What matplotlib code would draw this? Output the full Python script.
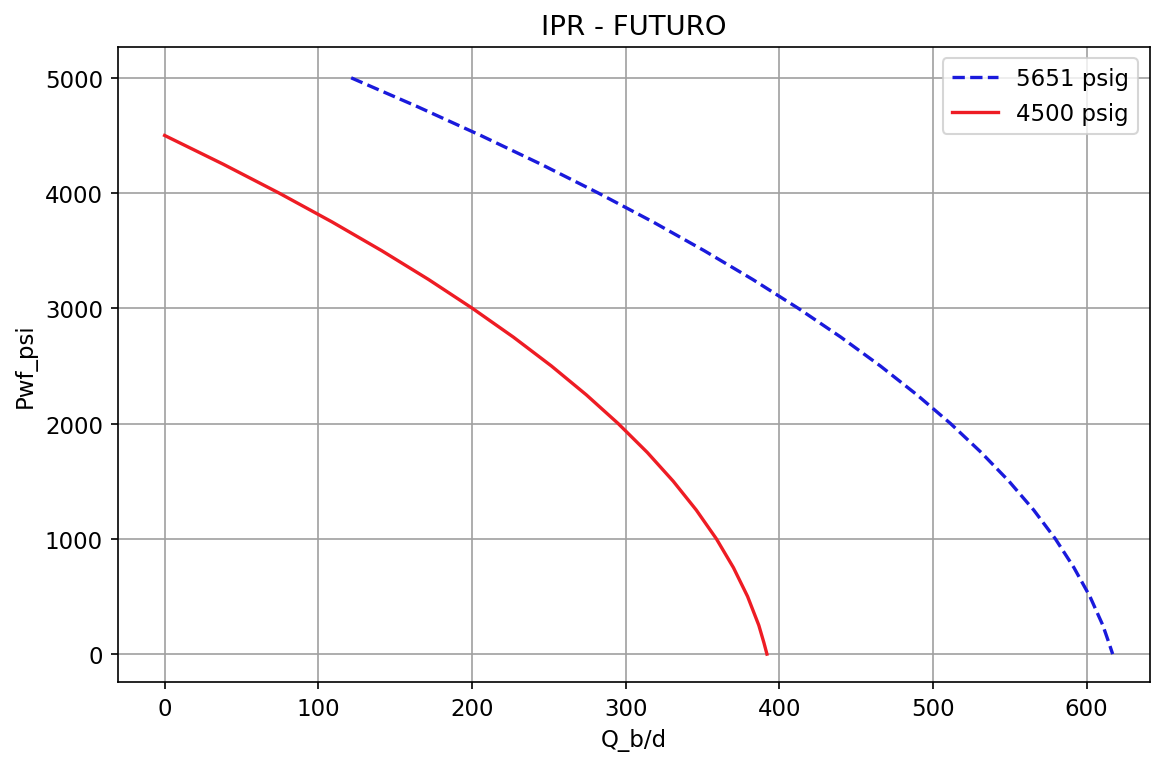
import matplotlib
matplotlib.use("Agg")
import matplotlib.pyplot as plt

# Pressures (psi) and rates (b/d)
pwf_5651 = [5000, 4750, 4500, 4250, 4000, 3750, 3500, 3250, 3000, 2750, 2500, 2250,
            2000, 1750, 1500, 1250, 1000, 750, 500, 250, 100, 0]
q_5651 = [121.4, 164.5, 205.7, 245.0, 282.3, 317.8, 351.2, 382.8, 412.4, 440.1, 465.8, 489.6,
          511.5, 531.4, 549.5, 565.6, 579.7, 591.8, 602.2, 610.6, 614.5, 617.0]

pwf_4500 = [4500, 4250, 4000, 3750, 3500, 3250, 3000, 2750, 2500, 2250, 2000, 1750,
            1500, 1250, 1000, 750, 500, 250, 100, 0]
q_4500 = [0.0, 38.2, 74.5, 108.9, 141.3, 171.8, 200.3, 227.0, 251.7, 274.4, 295.2, 314.1,
          331.0, 346.0, 359.1, 370.2, 379.4, 386.7, 390.0, 392.0]

labels = ["5651 psig", "4500 psig"]

plt.rcParams["font.size"] = 11
fig = plt.figure(figsize=(1153 / 150, 759 / 150), dpi=150)
ax = fig.add_axes([0.102, 0.100, 0.895, 0.837])
ax.plot(q_5651, pwf_5651, "--", color="#1a1adc", lw=1.6, label=labels[0])
ax.plot(q_4500, pwf_4500, "-", color="#ee1c24", lw=1.6, label=labels[1])
ax.set_xlim(-30.6, 641)
ax.set_ylim(-243, 5269)
ax.set_xticks([0, 100, 200, 300, 400, 500, 600])
ax.set_yticks([0, 1000, 2000, 3000, 4000, 5000])
ax.grid(True, color="#a0a0a0", lw=0.8)
ax.set_title("IPR - FUTURO")
ax.set_xlabel("Q_b/d")
ax.set_ylabel("Pwf_psi")
ax.legend(loc="upper right")
fig.savefig("out.png", dpi=150)
